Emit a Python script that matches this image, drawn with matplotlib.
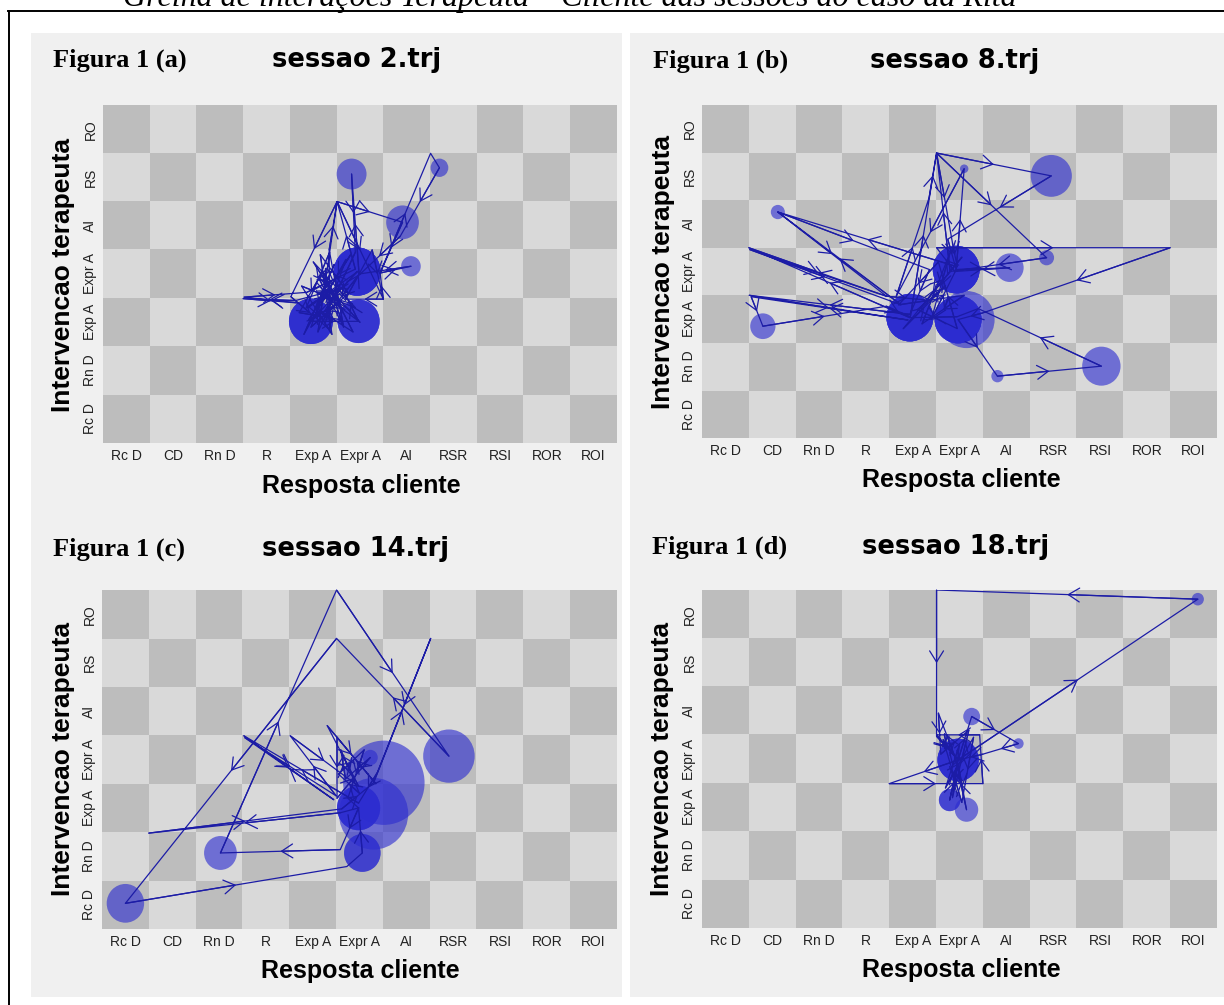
"""
Grelha de interações Terapeuta - Cliente: quatro sessões (2, 8, 14, 18) como state space grids.
"""
import numpy as np
import matplotlib
matplotlib.use("Agg")
import matplotlib.pyplot as plt
from matplotlib.colors import ListedColormap
from matplotlib.patches import Circle, Rectangle
from matplotlib.lines import Line2D

FIG_W, FIG_H = 1224, 1005

caption = "Grelha de interações Terapeuta – Cliente das sessões do caso da Rita"

clientCategories = ["Rc D", "CD", "Rn D", "R", "Exp A", "Expr A", "AI", "RSR", "RSI", "ROR", "ROI"]
therapistCategories = ["Rc D", "Rn D", "Exp A", "Expr A", "AI", "RS", "RO"]

figureTags = ["Figura 1 (a)", "Figura 1 (b)", "Figura 1 (c)", "Figura 1 (d)"]
sessionTitles = ["sessao 2.trj", "sessao 8.trj", "sessao 14.trj", "sessao 18.trj"]

# trajectories: (client index, therapist index)
sess2Path = [
    (4.94, 3.05), (3.95, 2.02), (4.97, 2.02), (4.62, 2.71), (3.62, 2.45), (2.50, 2.49),
    (3.68, 2.40), (2.52, 2.52), (3.86, 2.62), (4.90, 3.10), (4.51, 4.50), (5.91, 4.07),
    (5.43, 3.02), (6.09, 3.16), (4.98, 3.00), (4.82, 5.07), (4.90, 3.45), (4.10, 1.80),
    (4.51, 4.50), (3.52, 2.53), (4.35, 1.85), (4.34, 3.50), (4.51, 4.50), (5.50, 2.48),
    (4.69, 2.48), (5.26, 3.50), (5.50, 2.48), (5.43, 3.02), (6.51, 5.50), (6.70, 5.20),
    (5.86, 3.78), (4.95, 2.95), (4.25, 2.10), (4.70, 3.30), (3.80, 1.75), (4.45, 3.20),
    (4.05, 2.30), (4.85, 1.80), (4.20, 3.05), (3.70, 2.20), (4.60, 2.05), (4.30, 2.85),
    (3.95, 1.90), (4.75, 2.60), (4.15, 3.40), (4.40, 1.75), (3.75, 2.75), (4.90, 2.30),
    (4.00, 3.25), (4.55, 2.40), (3.90, 2.05), (4.80, 3.40), (4.25, 2.55), (5.00, 2.00),
    (4.10, 2.95), (4.65, 1.90), (4.35, 3.45), (3.85, 2.30), (4.95, 3.05),
]
sess8Path = [
    (4.93, 3.04), (6.07, 3.08), (4.90, 3.00), (4.51, 3.50), (9.50, 3.50), (5.50, 2.13),
    (4.97, 1.99), (5.81, 0.80), (8.03, 1.01), (5.40, 2.22), (4.95, 2.05), (3.94, 2.03),
    (0.50, 3.50), (3.44, 2.48), (0.52, 3.46), (3.75, 2.30), (1.12, 4.25), (4.36, 3.04),
    (3.94, 2.10), (0.51, 2.50), (3.90, 1.98), (0.55, 2.47), (0.80, 1.85), (3.44, 2.27),
    (3.95, 2.05), (4.51, 5.49), (6.96, 5.01), (4.75, 3.68), (4.93, 3.04), (5.10, 5.16),
    (3.65, 2.48), (4.35, 4.55), (4.51, 5.49), (6.86, 3.29), (4.80, 3.00), (4.51, 5.49),
    (4.85, 3.60), (4.95, 3.10), (1.12, 4.25), (3.44, 2.48), (4.30, 2.40), (5.05, 3.30),
    (3.80, 1.80), (4.70, 2.70), (4.10, 2.20), (4.95, 1.80), (4.55, 3.20), (3.70, 2.30),
    (5.10, 2.50), (4.20, 1.90), (4.80, 3.40), (4.40, 2.00), (4.93, 3.04),
]
sess14Path = [
    (4.98, 2.00), (4.59, 1.14), (2.03, 1.07), (4.51, 6.50), (6.91, 3.07), (4.51, 5.50),
    (0.00, 0.03), (4.73, 0.79), (5.06, 1.07), (4.98, 2.00), (4.59, 1.90), (0.50, 1.48),
    (4.62, 1.98), (5.30, 2.52), (6.52, 5.50), (5.38, 2.73), (4.98, 2.10), (2.53, 3.49),
    (4.45, 2.17), (2.55, 3.45), (4.50, 2.25), (3.52, 3.49), (4.98, 2.45), (4.31, 3.70),
    (5.35, 2.50), (4.52, 3.46), (4.52, 2.20), (5.23, 3.04), (4.70, 2.60), (4.60, 3.20),
    (5.00, 2.30), (4.55, 2.70), (5.10, 3.20), (4.75, 2.20), (4.98, 2.00),
]
sess18Path = [
    (4.97, 2.98), (10.09, 6.31), (4.51, 6.50), (4.51, 3.47), (4.97, 2.98), (5.26, 3.88),
    (6.26, 3.32), (5.50, 3.10), (4.97, 2.98), (3.50, 2.49), (5.50, 2.49), (5.43, 3.50),
    (4.51, 3.50), (4.97, 2.98), (4.79, 2.15), (4.97, 2.90), (5.15, 1.95), (4.90, 3.05),
    (4.55, 3.95), (4.60, 3.10), (5.20, 3.60), (4.85, 2.20), (5.00, 3.30), (4.70, 2.40),
    (5.30, 3.45), (5.05, 2.10), (4.65, 3.40), (4.97, 2.98),
]

# visited cells: (x, y, radius, overlapping visits)
sess2Circles = [
    (4.82, 5.07, 0.32, 1), (5.91, 4.07, 0.35, 1), (6.70, 5.20, 0.19, 1), (6.09, 3.16, 0.21, 1),
    (4.94, 3.05, 0.50, 5), (3.95, 2.02, 0.47, 4), (4.97, 2.02, 0.45, 3),
]
sess8Circles = [
    (6.96, 5.01, 0.44, 1), (5.10, 5.16, 0.09, 1), (1.12, 4.25, 0.15, 1), (6.07, 3.08, 0.30, 1),
    (6.86, 3.29, 0.16, 1), (0.80, 1.85, 0.27, 1), (8.03, 1.01, 0.41, 1), (5.81, 0.80, 0.13, 1),
    (5.15, 1.99, 0.60, 1), (4.93, 3.04, 0.50, 5), (3.94, 2.03, 0.50, 5), (4.97, 1.99, 0.50, 5),
]
sess14Circles = [
    (0.00, 0.03, 0.40, 1), (2.03, 1.07, 0.35, 1), (6.91, 3.07, 0.55, 1), (5.52, 2.52, 0.87, 1),
    (5.30, 1.88, 0.74, 1), (5.06, 1.07, 0.39, 2), (4.98, 2.00, 0.46, 3), (5.23, 3.04, 0.16, 1),
]
sess18Circles = [
    (10.09, 6.31, 0.13, 1), (5.26, 3.88, 0.18, 1), (6.26, 3.32, 0.11, 1), (4.97, 2.98, 0.44, 4),
    (4.79, 2.15, 0.23, 2), (5.15, 1.95, 0.25, 1),
]

CELL_DARK = "#bdbdbd"
CELL_LIGHT = "#d9d9d9"
PANEL_BG = "#f0f0f0"
LINE_BLUE = "#1c1ca6"
CIRCLE_BLUE = "#2c2cd0"
SANS = "Liberation Sans"
SERIF = "Liberation Serif"

# pixel layout: grid box (left, top, right, bottom) and text anchors
PANELS = [
    dict(grid=(103, 105, 617, 443), tag=(53, 67), title=(357, 67), xlabel=(361, 493), ylabel=(63, 275)),
    dict(grid=(702, 105, 1217, 438), tag=(653, 68), title=(955, 68), xlabel=(961, 487), ylabel=(663, 272)),
    dict(grid=(102, 590, 617, 929), tag=(53, 556), title=(355, 556), xlabel=(360, 978), ylabel=(63, 759)),
    dict(grid=(702, 590, 1217, 928), tag=(652, 554), title=(956, 554), xlabel=(961, 977), ylabel=(662, 759)),
]


def FigXY(x, y):
    return x / FIG_W, 1 - y / FIG_H


def DrawPanel(fig, layout, tag, title, path, circles):
    left, top, right, bottom = layout["grid"]
    x0, y0 = FigXY(left, bottom)
    ax = fig.add_axes([x0, y0, (right - left) / FIG_W, (bottom - top) / FIG_H], zorder=2)
    ax.patch.set_alpha(0)
    nx, ny = len(clientCategories), len(therapistCategories)
    checker = np.add.outer(np.arange(ny), np.arange(nx)) % 2
    ax.imshow(checker, cmap=ListedColormap([CELL_DARK, CELL_LIGHT]), origin="lower",
              extent=(-0.5, nx - 0.5, -0.5, ny - 0.5), aspect="auto",
              interpolation="nearest", zorder=0)
    for cx, cy, r, visits in circles:
        for _ in range(visits):
            ax.add_patch(Circle((cx, cy), r, facecolor=CIRCLE_BLUE, edgecolor="none",
                                alpha=0.62, zorder=2))
    px, py = zip(*path)
    ax.plot(px, py, color=LINE_BLUE, lw=0.9, zorder=3)
    # open chevron halfway along each longer move
    for (xa, ya), (xb, yb) in zip(path[:-1], path[1:]):
        if np.hypot(xb - xa, yb - ya) > 0.5:
            mid = ((xa + xb) / 2, (ya + yb) / 2)
            ax.annotate("", xy=mid, xytext=(xa, ya), zorder=4,
                        arrowprops=dict(arrowstyle="->,head_length=0.8,head_width=0.5",
                                        color=LINE_BLUE, lw=0.9, shrinkA=0, shrinkB=0,
                                        mutation_scale=10))
    ax.set_xlim(-0.5, nx - 0.5)
    ax.set_ylim(-0.5, ny - 0.5)
    ax.set_xticks(range(nx))
    ax.set_xticklabels(clientCategories, fontsize=10, family=SANS, color="#222222")
    ax.set_yticks(range(ny))
    ax.set_yticklabels(therapistCategories, fontsize=10, family=SANS, color="#222222",
                       rotation=90, va="center")
    ax.tick_params(length=0, pad=4)
    for spine in ax.spines.values():
        spine.set_visible(False)

    fig.text(*FigXY(*layout["tag"]), tag, family=SERIF, weight="bold", fontsize=19,
             ha="left", va="baseline")
    fig.text(*FigXY(*layout["title"]), title, family="DejaVu Sans", weight="bold",
             fontsize=18.5, ha="center", va="baseline")
    fig.text(*FigXY(*layout["xlabel"]), "Resposta cliente", family=SANS, weight="bold",
             fontsize=18, ha="center", va="baseline")
    fig.text(*FigXY(*layout["ylabel"]), "Intervencao terapeuta", family=SANS, weight="bold",
             fontsize=19, ha="center", va="center", rotation=90)
    return ax


def main():
    fig = plt.figure(figsize=(FIG_W / 100, FIG_H / 100), dpi=100)
    fig.patch.set_facecolor("white")

    # light panel backgrounds
    for bx0, bx1 in [(31, 622), (630, 1224)]:
        fx, fy = FigXY(bx0, 997)
        fig.patches.append(Rectangle((fx, fy), (bx1 - bx0) / FIG_W, (997 - 33) / FIG_H,
                                     transform=fig.transFigure, facecolor=PANEL_BG,
                                     edgecolor="none", zorder=-10))
    # frame of the scanned box
    fig.add_artist(Line2D([8 / FIG_W, 1], [1 - 11.5 / FIG_H] * 2, color="black", lw=1.4,
                          transform=fig.transFigure))
    fig.add_artist(Line2D([8.5 / FIG_W] * 2, [1 - 11.5 / FIG_H, 0], color="black", lw=1.4,
                          transform=fig.transFigure))
    fig.text(*FigXY(123, 6), caption, family=SERIF, style="italic", fontsize=23,
             ha="left", va="baseline")

    sessions = [
        (sess2Path, sess2Circles),
        (sess8Path, sess8Circles),
        (sess14Path, sess14Circles),
        (sess18Path, sess18Circles),
    ]
    for layout, tag, title, (path, circles) in zip(PANELS, figureTags, sessionTitles, sessions):
        DrawPanel(fig, layout, tag, title, path, circles)

    fig.savefig("out.png", dpi=100)
    plt.close(fig)


if __name__ == "__main__":
    main()
